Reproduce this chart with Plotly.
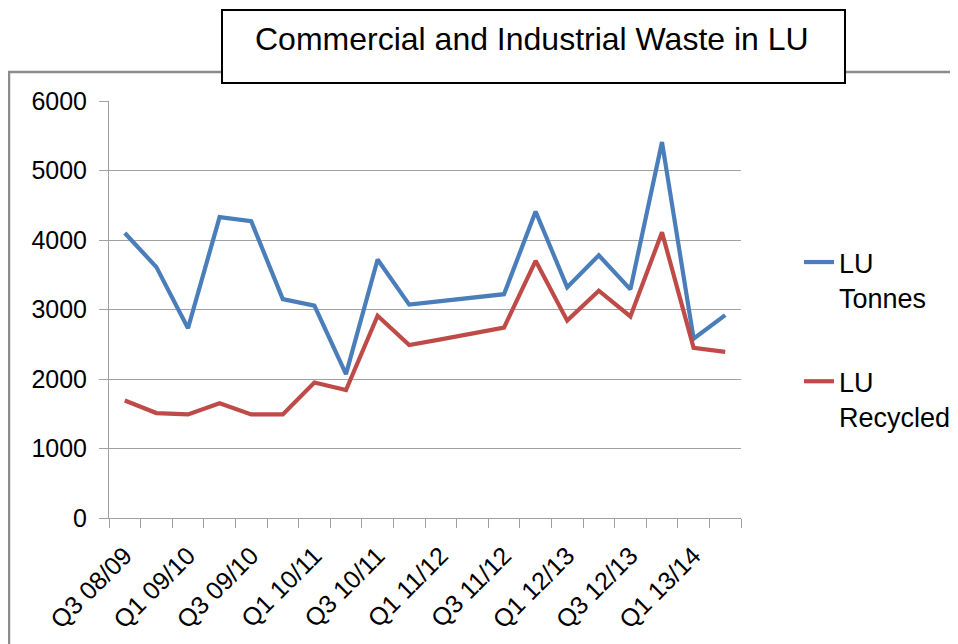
import plotly.graph_objects as go

categories = ["Q3 08/09", "Q4 08/09", "Q1 09/10", "Q2 09/10", "Q3 09/10", "Q4 09/10",
              "Q1 10/11", "Q2 10/11", "Q3 10/11", "Q4 10/11", "Q1 11/12", "Q2 11/12",
              "Q3 11/12", "Q4 11/12", "Q1 12/13", "Q2 12/13", "Q3 12/13", "Q4 12/13",
              "Q1 13/14", "Q2 13/14"]
tick_labels = ["Q3 08/09", "", "Q1 09/10", "", "Q3 09/10", "", "Q1 10/11", "",
               "Q3 10/11", "", "Q1 11/12", "", "Q3 11/12", "", "Q1 12/13", "",
               "Q3 12/13", "", "Q1 13/14", ""]
lu_tonnes = [4100, 3610, 2730, 4330, 4270, 3150, 3055, 2070, 3720, 3070,
             3120, 3170, 3220, 4410, 3320, 3780, 3290, 5410, 2580, 2920]
lu_recycled = [1690, 1510, 1490, 1650, 1490, 1490, 1950, 1840, 2910, 2490,
               2570, 2660, 2740, 3700, 2840, 3270, 2900, 4110, 2450, 2390]

OFF = 8  # page body margin
W, H = 958 - OFF, 644 - OFF
L, R, T, B = 109, 741, 101, 518  # plot area in screen pixels

def px(x):
    return (x - L) / (R - L)

def py(y):
    return (B - y) / (B - T)

font = "Liberation Sans, Arial, sans-serif"

fig = go.Figure()
fig.add_trace(go.Scatter(x=categories, y=lu_tonnes, mode="lines", name="LU<br>Tonnes",
                         line=dict(color="#4a7ebb", width=4.2), legendgroup="a"))
fig.add_trace(go.Scatter(x=categories, y=lu_recycled, mode="lines", name="LU<br>Recycled",
                         line=dict(color="#be4b48", width=4.2), legendgroup="b"))

# outer chart border (extends past the image on right/bottom)
fig.add_shape(type="rect", xref="paper", yref="paper",
              x0=px(9), x1=px(975), y0=py(660), y1=py(72),
              line=dict(color="#8c8c8c", width=2.5), fillcolor="rgba(0,0,0,0)", layer="below")
# title box
fig.add_shape(type="rect", xref="paper", yref="paper",
              x0=px(222), x1=px(845), y0=py(83), y1=py(10),
              line=dict(color="black", width=2), fillcolor="white", layer="above")
fig.add_annotation(text="Commercial and Industrial Waste in LU", xref="paper", yref="paper",
                   x=px(532), y=py(39), xanchor="center", yanchor="middle", showarrow=False,
                   font=dict(family=font, size=32, color="black"))

fig.update_layout(
    width=W, height=H,
    margin=dict(l=L - OFF, r=W - (R - OFF), t=T - OFF, b=H - (B - OFF), autoexpand=False),
    paper_bgcolor="white", plot_bgcolor="white",
    font=dict(family=font, color="black"),
    showlegend=True,
    legend=dict(x=px(799), y=py(238), xanchor="left", yanchor="top",
                font=dict(family=font, size=27, color="black"),
                valign="top", tracegroupgap=46, bgcolor="rgba(0,0,0,0)"),
    xaxis=dict(type="category", tickvals=categories, ticktext=tick_labels,
               tickson="boundaries", ticks="outside", ticklen=9, tickcolor="#a0a0a0",
               showline=True, linecolor="#a0a0a0", linewidth=1, showgrid=False,
               tickangle=-45, tickfont=dict(family=font, size=25, color="black"),
               ticklabelstandoff=12, range=[-0.5, 19.5], automargin=False),
    yaxis=dict(range=[0, 6000], dtick=1000, ticks="outside", ticklen=9, tickcolor="#a0a0a0",
               showline=True, linecolor="#a0a0a0", linewidth=1,
               showgrid=True, gridcolor="#a0a0a0", gridwidth=1, zeroline=False,
               ticklabelstandoff=7, automargin=False,
               tickfont=dict(family=font, size=25, color="black")),
)

fig.write_html("out.html")
